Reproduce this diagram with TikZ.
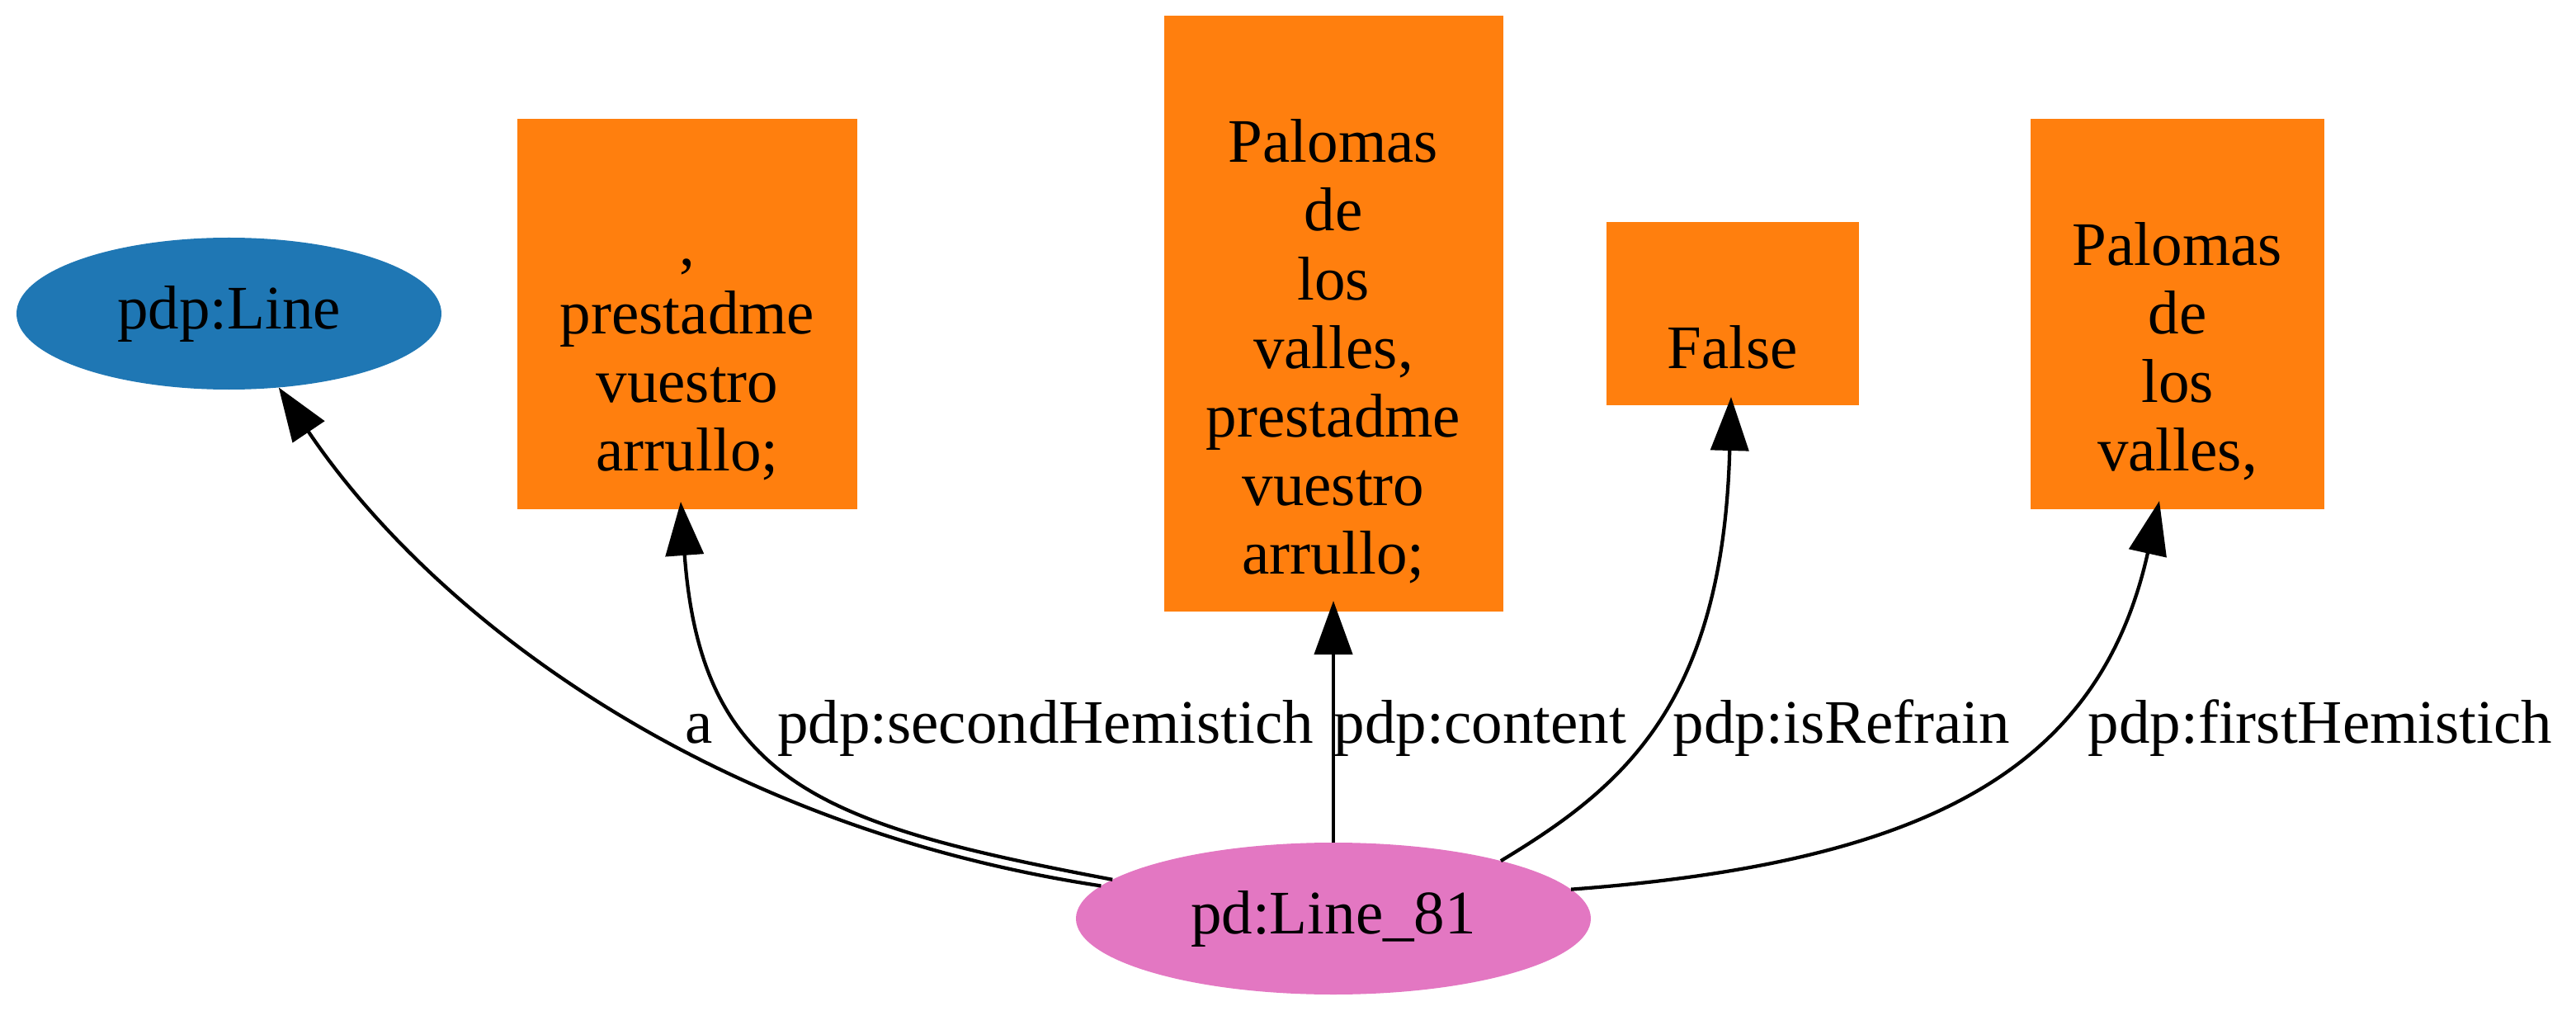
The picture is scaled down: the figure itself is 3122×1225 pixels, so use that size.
\documentclass[tikz,border=0pt]{standalone}
\usepackage{fontspec}
\setmainfont{Liberation Serif}
\usetikzlibrary{arrows.meta,shapes.geometric,calc}
\definecolor{nblue}{HTML}{1F77B4}
\definecolor{norange}{HTML}{FF7F0E}
\definecolor{npink}{HTML}{E377C2}
\begin{document}
\begin{tikzpicture}[x=0.2pt,y=-0.2pt,
  every node/.style={font=\fontsize{15}{16.6}\selectfont, inner sep=0pt, outer sep=0pt},
  classnode/.style={ellipse, fill=nblue, draw=none},
  resnode/.style={ellipse, fill=npink, draw=none},
  litnode/.style={rectangle, fill=norange, draw=none},
  littext/.style={align=center},
  edge/.style={draw=black, line width=0.85pt, -{Triangle[length=13pt,width=9.2pt]}},
  elabel/.style={anchor=base}
]
\useasboundingbox (0,0) rectangle (3122,1225);

% nodes
\node[classnode, minimum width=103pt, minimum height=36.8pt] (pline) at (277.5,380) {pdp:Line};
\node[resnode, minimum width=124.8pt, minimum height=36.8pt] (l81) at (1616,1113) {pd:Line\_81};

\node[litnode, minimum width=82.4pt, minimum height=94.6pt] (b1) at (833,380.5) {};
\node[litnode, minimum width=82.2pt, minimum height=144.4pt] (b2) at (1616,380) {};
\node[litnode, minimum width=61.2pt, minimum height=44.4pt] (fb) at (2100,380) {};
\node[litnode, minimum width=71.2pt, minimum height=94.6pt] (b4) at (2639,380.5) {};

\node[littext] (t1) at (833,429.4) {\strut,\\\strut prestadme\\\strut vuestro\\\strut arrullo;};
\node[littext] (t2) at (1616,429.4) {\strut Palomas\\\strut de\\\strut los\\\strut valles,\\\strut prestadme\\\strut vuestro\\\strut arrullo;};
\node[littext] (tf) at (2100,429.4) {\strut False};
\node[littext] (t4) at (2639,429.4) {\strut Palomas\\\strut de\\\strut los\\\strut valles,};

% edges
\draw[edge] (l81.172) .. controls (850,1000) and (520,740) .. (pline);
\draw[edge] (l81.170) .. controls (1000,1000) and (850,950) .. ($(b1.south)+(-8,-9)$);
\draw[edge] (l81.north) -- ($(b2.south)+(0,-13)$);
\draw[edge] (l81.19) .. controls (1965,955) and (2088,855) .. ($(fb.south)+(-2,-10)$);
\draw[edge] (l81.7) .. controls (2340,1045) and (2545,930) .. ($(b4.south)+(-22,-10)$);

% edge labels
\node[elabel] (la) at (847,900) {a};
\node[elabel] (lsec) at (1267,900) {pdp:secondHemistich};
\node[elabel] (lcon) at (1794,900) {pdp:content};
\node[elabel] (lref) at (2232,900) {pdp:isRefrain};
\node[elabel] (lfir) at (2812,900) {pdp:firstHemistich};
\end{tikzpicture}
\end{document}
